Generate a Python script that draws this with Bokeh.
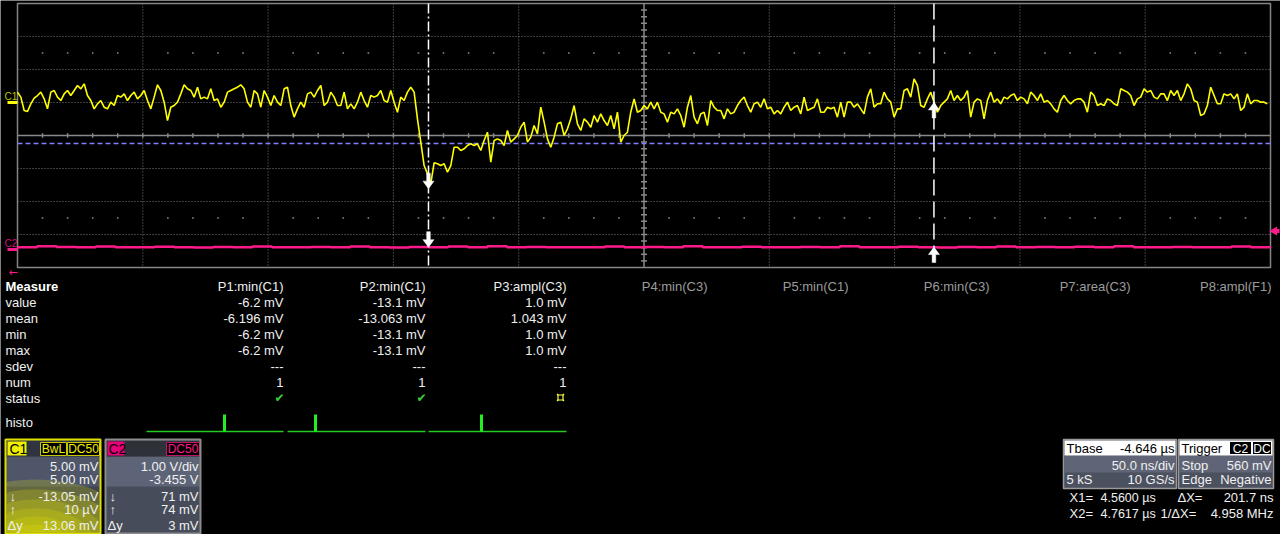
import numpy as np
from bokeh.plotting import figure
from bokeh.models import Range1d
from bokeh.embed import file_html
from bokeh.resources import INLINE
from bokeh.core.properties import value

# ---------------- data ----------------
t_center_us = 4.646          # timebase centre (Tbase -4.646 us)
time_per_div_us = 0.050      # 50.0 ns/div
n_div_x = 10
n_div_y = 8

c1_mv_per_div = 5.0
c1_offset_mv = 5.0
c2_v_per_div = 1.0
c2_offset_v = -3.455

# C1 samples (mV), uniform sample grid
c1_t0_us = 4.396
c1_dt_us = 0.00133
c1_mv_a = [1.57, 0.81, -1.21, -1.36, -0.20, 0.66, 1.06, 1.57, 0.55, -0.96,
           1.57, 1.82, 0.81, 0.30, 1.31, 1.82, 1.06, 1.82, 2.58, 2.07,
           2.83, 1.06, 0.30, -0.96, -0.20, 0.30, -0.71, -0.96, 0.05, -0.46,
           1.06, 0.81, 1.31, 0.30, 1.06, 1.57, 0.55, 1.06, 1.82, 0.30,
           -0.96, 0.81, 2.68, 1.82, 0.05, -2.73, -0.71, -0.46, 0.05, 1.31,
           2.68, 2.07, 1.82, 0.81, 2.32, 0.55, 0.81, 0.55, 2.07, 0.30,
           0.55, -0.71, 0.05, 1.57, 1.82, 2.07, 2.32, 2.68, 2.07, 0.05,
           -0.71, 1.82, 1.31, -0.71, 1.82, 0.81, -0.46, 1.06, 0.05, -0.46,
           2.07, 2.32, -0.46, -2.22, -0.96, 0.05, -0.71, 1.31, 1.57, 0.81,
           1.82, 2.58, -0.46, 0.05, 1.57, 0.81, -0.46, -0.46, 1.57, -0.96,
           -0.20, -0.96, 0.05, 1.57, 0.30, -0.71, 1.06, 0.81, 1.06, 1.82,
           0.30, 0.05, 1.82, 0.05, -1.47, 0.81, 0.30, 1.57, 2.32, 1.57,
           -2.48, -6.01, -9.55, -10.81]
c1_mv_b = [-12.3, -9.14, -9.29, -9.55, -9.29, -10.56, -9.55, -6.77, -6.77, -7.27,
           -7.02, -6.52, -6.26, -6.52, -6.26, -7.27, -5.76, -4.50, -9.04, -5.76,
           -5.51, -5.76, -6.52, -4.24, -6.01, -5.51, -5.00, -3.74, -2.98, -6.01,
           -5.25, -3.49, -4.75, -0.71, -2.98, -5.51, -6.77, -5.25, -3.23, -2.98,
           -5.00, -3.99, -2.48, -0.46, -3.23, -4.24, -2.48, -2.98, -3.74, -1.97,
           -2.98, -1.72, -2.73, -3.49, -1.97, -3.99, -1.47, -6.01, -5.00, -4.50,
           -1.47, 0.55, -1.47, -1.21, -0.46, -0.96, 0.05, -0.96, 0.05, -1.47,
           -1.72, -2.98, -1.47, -1.72, -0.96, -1.97, -3.74, -0.71, 1.06, -2.22,
           -3.23, -1.72, -1.47, -3.49, 0.30, -0.71, -1.21, -1.21, -2.48, -0.96,
           -1.72, -1.47, -0.46, 0.30, 0.81, -0.46, -1.47, -0.20, 0.05, -0.71,
           0.55, -0.96, -0.71, -1.72, -1.21, -1.72, -0.71, 0.05, -1.21, -0.71,
           -0.46, -1.72, 0.81, -1.21, -0.96, -0.71, 0.55, -1.47, -1.47, -0.71,
           -0.96, -0.71, -2.22, 0.05, -2.22, 0.05]
c1_mv_c = [0.05, -0.71, -0.20, -0.96, -1.72, 0.81, 2.07, -0.71, -0.20, -0.20,
           1.57, 0.55, 0.05, -2.22, -0.96, -0.96, 1.82, 2.07, 0.81, 3.58,
           2.58, -0.46, -0.71, 0.55, 1.57, 0.05, -1.47, -0.46, 0.05, 0.55,
           1.82, 0.30, 1.06, 0.30, 0.81, 1.82, -2.22, 0.05, 0.55, 0.30,
           -2.48, 0.30, 1.57, 0.05, 0.55, -0.20, 0.81, 0.55, 1.06, 1.31,
           0.30, 0.81, 0.55, -0.20, 1.57, 1.06, 0.30, 1.31, 0.05, 0.30,
           -0.20, -0.96, -1.47, 0.30, 1.06, 0.30, -0.20, 0.30, 0.55, 0.55,
           0.05, -1.47, 1.57, 1.06, -0.46, -0.20, -0.46, 0.55, 0.30, -0.20,
           -0.46, 2.07, 1.82, 1.57, 1.06, -0.46, 0.55, 0.81, 2.07, 1.57,
           1.82, 0.81, 0.55, 1.31, 1.31, 0.30, 1.82, 1.06, 1.82, 0.30,
           1.31, 2.83, 2.07, 0.30, 0.05, -1.97, -1.72, -0.46, 2.32, 1.06,
           -0.20, -0.20, 1.31, 1.06, 1.31, 0.55, 1.31, -1.21, -0.71, 1.31,
           -0.20, 0.30, 0.30, 0.05, 0.05, -0.20]

# C2 samples (mV)
c2_t0_us = 4.396
c2_dt_us = 0.0078125
c2_mv = [72, 100, 80, 72, 90, 66, 72, 84, 72, 60,
         78, 72, 95, 72, 68, 80, 72, 90, 72, 64,
         76, 72, 88, 72, 100, 70, 80, 72, 66, 72,
         90, 72, 78, 72, 96, 70, 72, 84, 66, 72,
         80, 72, 100, 72, 70, 86, 72, 64, 78, 72,
         92, 72, 74, 68, 84, 72, 96, 72, 70, 80,
         72, 66, 88, 72, 76]

cursor_x_us = [4.5600, 4.7617]
c1_cursor_mv = [-13.05, 0.010]
c2_cursor_mv = [71.0, 74.0]
threshold_c1_mv = -6.2
trigger_level_mv = 560.0

measure_rows = ["value", "mean", "min", "max", "sdev", "num", "status"]
param_names = ["P1:min(C1)", "P2:min(C1)", "P3:ampl(C3)", "P4:min(C3)",
               "P5:min(C1)", "P6:min(C3)", "P7:area(C3)", "P8:ampl(F1)"]
param_values = [["-6.2 mV", "-6.196 mV", "-6.2 mV", "-6.2 mV", "---", "1"],
                ["-13.1 mV", "-13.063 mV", "-13.1 mV", "-13.1 mV", "---", "1"],
                ["1.0 mV", "1.043 mV", "1.0 mV", "1.0 mV", "---", "1"]]
param_status = ["ok", "ok", "warn"]

c1_box_rows = ["5.00 mV", "5.00 mV", "-13.05 mV", "10 µV", "13.06 mV"]
c2_box_rows = ["1.00 V/div", "-3.455 V", "71 mV", "74 mV", "3 mV"]
box_row_symbols = ["", "", "↓", "↑", "Δy"]

tbase_texts = ["Tbase", "-4.646 µs", "50.0 ns/div", "5 kS", "10 GS/s"]
trig_texts = ["Trigger", "C2", "DC", "Stop", "560 mV", "Edge", "Negative"]
readout_x1 = ["X1=", "4.5600 µs", "ΔX=", "201.7 ns"]
readout_x2 = ["X2=", "4.7617 µs", "1/ΔX=", "4.958 MHz"]

# ---------------- geometry ----------------
W, H = 1280, 534
GL, GR, GT, GB = 17.0, 1270.0, 3.0, 267.0
PX_DIV_X = (GR - GL) / n_div_x
PX_DIV_Y = (GB - GT) / n_div_y
YC = (GT + GB) / 2
t_left = t_center_us - time_per_div_us * n_div_x / 2
t_right = t_center_us + time_per_div_us * n_div_x / 2
US_PX = time_per_div_us / PX_DIV_X


def tx(px):
    return t_left + (np.asarray(px, dtype=float) - GL) * US_PX


def dy(py):
    return (YC - np.asarray(py, dtype=float)) / PX_DIV_Y


def c1_div(mv):
    return (np.asarray(mv, dtype=float) + c1_offset_mv) / c1_mv_per_div


def c2_div(mv):
    return (np.asarray(mv, dtype=float) / 1000.0 + c2_offset_v) / c2_v_per_div


p = figure(width=W, height=H, x_range=Range1d(float(tx(0)), float(tx(W))),
           y_range=Range1d(float(dy(H)), float(dy(0))),
           x_axis_type=None, y_axis_type=None, toolbar_location=None,
           output_backend="svg", min_border=0, min_border_left=0,
           min_border_right=0, min_border_top=0, min_border_bottom=0,
           background_fill_color="black", border_fill_color="black",
           outline_line_color=None)

FONT = "Liberation Sans"


def T(px, py, s, color="#f0f0f0", size=13, align="left", style="normal", font=FONT):
    p.text(x=[float(tx(px))], y=[float(dy(py))], text=[s], text_color=color,
           text_font_size=f"{size}px", text_align=align, text_baseline="middle",
           text_font=value(font), text_font_style=style)


def box(l, r, t, b, fill=None, line=None, lw=1.0):
    p.quad(left=float(tx(l)), right=float(tx(r)), top=float(dy(t)), bottom=float(dy(b)),
           fill_color=fill, line_color=line, line_width=lw)


# ---------------- graticule ----------------
ytop, ybot = n_div_y / 2, -n_div_y / 2
vx = [t_left + k * time_per_div_us for k in range(1, n_div_x) if k != n_div_x // 2]
p.segment(x0=vx, y0=[ytop] * len(vx), x1=vx, y1=[ybot] * len(vx),
          line_color="#7a7a7a", line_width=1, line_dash="1 2")
hy = [j for j in range(-3, 4) if j != 0]
p.segment(x0=[t_left] * len(hy), y0=hy, x1=[t_right] * len(hy), y1=hy,
          line_color="#7a7a7a", line_width=1, line_dash="1 2")
# sub-division dot rows
dots_x = [t_left + k * time_per_div_us / 5 for k in range(1, 5 * n_div_x) if k % 5]
for yy in (2.5, -2.5):
    p.scatter(x=dots_x, y=[yy] * len(dots_x), marker="square", size=1.6,
              fill_color="#8a8a8a", line_color=None)
# centre cross
p.segment(x0=[t_left, t_center_us], y0=[0, ytop], x1=[t_right, t_center_us], y1=[0, ybot],
          line_color="#8a8a8a", line_width=1.5)
tk = [t_left + k * time_per_div_us / 5 for k in range(1, 5 * n_div_x)]
p.segment(x0=tk, y0=[2.2 / PX_DIV_Y] * len(tk), x1=tk, y1=[-2.2 / PX_DIV_Y] * len(tk),
          line_color="#8a8a8a", line_width=1.5)
ty = [j * 0.2 for j in range(-19, 20)]
p.segment(x0=[t_center_us - 3 * US_PX] * len(ty), y0=ty,
          x1=[t_center_us + 3 * US_PX] * len(ty), y1=ty, line_color="#8a8a8a", line_width=1.5)
# frame
p.quad(left=t_left, right=t_right, top=ytop, bottom=ybot, fill_color=None,
       line_color="#858585", line_width=1.5)

# threshold line
thr = float(c1_div(threshold_c1_mv))
p.segment(x0=[t_left], y0=[thr], x1=[t_right], y1=[thr], line_color="#7f7fff",
          line_width=1.5, line_dash="5 3")

# ---------------- traces ----------------
c1_vals = np.array(c1_mv_a + c1_mv_b + c1_mv_c)
c1_t = c1_t0_us + c1_dt_us * np.arange(len(c1_vals))
p.line(x=c1_t, y=c1_div(c1_vals), line_color="#ffff00", line_width=1.6)

c2_t = c2_t0_us + c2_dt_us * np.arange(len(c2_mv))
p.step(x=c2_t, y=c2_div(c2_mv), mode="after", line_color="#ff1a8c", line_width=2.5)

# channel markers on the left
for lab, yv, col, lcol, ly in (("C1", float(c1_div(0)), "#ffff00", "#b8c400", 96),
                               ("C2", float(c2_div(0)), "#ff1a8c", "#d0107f", 243)):
    p.segment(x0=[float(tx(7))], y0=[yv], x1=[float(tx(17))], y1=[yv], line_color=col, line_width=3)
    T(4, ly, lab, color=lcol, size=10)

# trigger level marker on the right
trig_y = float(c2_div(trigger_level_mv))
p.scatter(x=[float(tx(1274))], y=[trig_y], marker="triangle", angle=np.pi / 2, size=9,
          fill_color="#ff1a8c", line_color=None)
p.segment(x0=[float(tx(1275))], y0=[trig_y], x1=[float(tx(1279))], y1=[trig_y],
          line_color="#ff1a8c", line_width=4)

# ---------------- cursors ----------------
for cx, dash in zip(cursor_x_us, ("10 3 2 3", "16 6")):
    p.segment(x0=[cx], y0=[ytop], x1=[cx], y1=[ybot], line_color="white",
              line_width=1.5, line_dash=dash)

arrow_pts = [(0, 0), (-5.5, -7.5), (-1.8, -7.5), (-1.8, -15.5), (1.8, -15.5), (1.8, -7.5), (5.5, -7.5)]


def arrow(t, yd, up):
    xs = [t + ox * US_PX for ox, oy in arrow_pts]
    ys = [yd + (oy / PX_DIV_Y if up else -oy / PX_DIV_Y) for ox, oy in arrow_pts]
    p.patch(x=xs, y=ys, fill_color="white", line_color="white", line_width=0.5)


arrow(cursor_x_us[0], float(c1_div(c1_cursor_mv[0])), False)
arrow(cursor_x_us[0], float(c2_div(c2_cursor_mv[0])), False)
arrow(cursor_x_us[1], float(c1_div(c1_cursor_mv[1])), True)
arrow(cursor_x_us[1], float(c2_div(c2_cursor_mv[1])), True)

# ---------------- measurement table ----------------
T(8, 272, "←", color="#ff1a8c", size=11, font="DejaVu Sans")
T(5, 286, "Measure", color="white", size=13, style="bold")
row_y = [302, 318, 334, 350, 366, 382, 398]
for lab, yy in zip(measure_rows, row_y):
    T(5, yy, lab)
T(5, 422, "histo")
col_right = [283, 425, 566, 707, 848, 989, 1130, 1271]
for i, name in enumerate(param_names):
    T(col_right[i], 286, name, color="#f0f0f0" if i < 3 else "#9c9c9c", align="right")
for i, vals in enumerate(param_values):
    for v, yy in zip(vals, row_y[:6]):
        T(col_right[i], yy, v, align="right")
    if param_status[i] == "ok":
        T(col_right[i] + 1, 397, "✔", color="#3ccc3c", size=12, align="right", font="DejaVu Sans")
    else:
        cx = float(tx(col_right[i] - 6))
        p.scatter(x=[cx], y=[float(dy(397))], marker="x", size=10, line_color="#ffff40", line_width=1.2)
        p.scatter(x=[cx], y=[float(dy(397))], marker="square", size=5, fill_color="black",
                  line_color="#ffff40", line_width=1.2)

histo_spans = [(146, 283, 224), (287, 425, 315), (428, 566, 481)]
for l, r, bx in histo_spans:
    p.segment(x0=[float(tx(l))], y0=[float(dy(431))], x1=[float(tx(r))], y1=[float(dy(431))],
              line_color="#22cc22", line_width=1.5)
    p.segment(x0=[float(tx(bx))], y0=[float(dy(431))], x1=[float(tx(bx))], y1=[float(dy(414))],
              line_color="#22ee22", line_width=3)

# ---------------- channel boxes ----------------
box_row_y = [466, 479, 496, 509, 525]
# C1
box(5, 100, 439, 533, fill="#3f4451")
box(6, 99, 456, 486, fill="#4f566a")
a = np.linspace(0, 2 * np.pi, 72)
for rx, ry in [(110, 66), (92, 56), (75, 46), (60, 37), (46, 29), (34, 21), (24, 15)]:
    xs = np.clip(35 + rx * np.cos(a), 6, 99)
    ys = np.clip(545 + ry * np.sin(a), 466, 532)
    p.patch(x=tx(xs), y=dy(ys), fill_color="#e8e800", fill_alpha=0.22, line_color=None)
box(6, 99, 440, 456, fill="#30343e")
box(7, 26, 441, 455, fill="#f0f000")
T(9, 448, "C1", color="black", size=14)
box(40, 66, 442, 455, fill="black", line="#c8c800")
T(53, 448.5, "BwL", color="#f0f000", size=12, align="center")
box(67, 99, 442, 455, fill="black", line="#c8c800")
T(83, 448.5, "DC50", color="#f0f000", size=12, align="center")
box(5, 100, 439, 533, fill=None, line="#e0e000", lw=2)
for s, sym, yy in zip(c1_box_rows, box_row_symbols, box_row_y):
    T(98, yy, s, align="right", size=13)
    if sym:
        T(7 if sym == "Δy" else 9, yy, sym, size=13)
# C2
box(105, 200, 439, 533, fill="#464c59")
box(106, 199, 456, 486, fill="#5d6477")
box(106, 199, 440, 456, fill="#2e3138")
box(107, 124, 441, 455, fill="#e8007a")
T(108, 448, "C2", color="black", size=14)
box(166, 199, 442, 455, fill="black", line="#c0106a")
T(182.5, 448.5, "DC50", color="#ff1a8c", size=12, align="center")
box(105, 200, 439, 533, fill=None, line="#8c8c8c", lw=2)
for s, sym, yy in zip(c2_box_rows, box_row_symbols, box_row_y):
    T(198, yy, s, align="right", size=13)
    if sym:
        T(107 if sym == "Δy" else 109, yy, sym, size=13)

# ---------------- timebase / trigger ----------------
box(1063, 1176, 439, 488, fill="#4c5160", line="#9a9a9a", lw=1.5)
box(1064, 1175, 455, 472, fill="#5f6576")
box(1064, 1175, 440, 455, fill="white")
T(1066, 448, tbase_texts[0], color="black")
T(1174, 448, tbase_texts[1], color="black", align="right")
T(1174, 465, tbase_texts[2], align="right")
T(1066, 479, tbase_texts[3])
T(1174, 479, tbase_texts[4], align="right")

box(1178, 1273, 439, 488, fill="#4c5160", line="#9a9a9a", lw=1.5)
box(1179, 1272, 455, 472, fill="#5f6576")
box(1179, 1272, 440, 455, fill="white")
T(1181, 448, trig_texts[0], color="black")
box(1229, 1251, 441, 454, fill="black", line="white")
T(1240, 448, trig_texts[1], color="white", size=12, align="center")
box(1252, 1271, 441, 454, fill="black", line="white")
T(1261.5, 448, trig_texts[2], color="white", size=12, align="center")
T(1181, 465, trig_texts[3])
T(1271, 465, trig_texts[4], align="right")
T(1181, 479, trig_texts[5])
T(1271, 479, trig_texts[6], align="right")

T(1069, 497, readout_x1[0]); T(1100, 497, readout_x1[1], size=12.5)
T(1177, 497, readout_x1[2]); T(1273, 497, readout_x1[3], align="right")
T(1069, 513, readout_x2[0]); T(1100, 513, readout_x2[1], size=12.5)
T(1160, 513, readout_x2[2]); T(1273, 513, readout_x2[3], align="right")

open("out.html", "w").write(file_html(p, INLINE))
